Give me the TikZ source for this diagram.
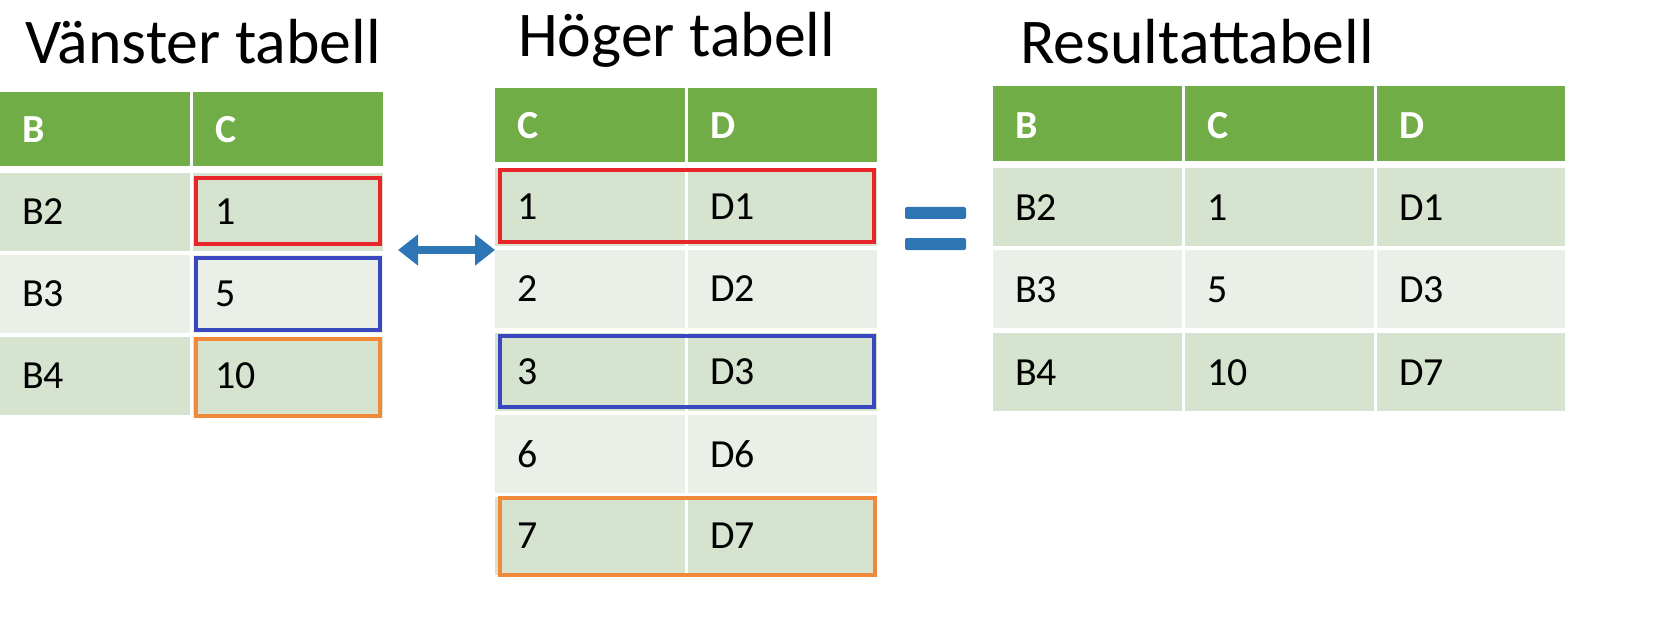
\documentclass[tikz,border=0pt]{standalone}
\usepackage{fontspec}
\setmainfont{Carlito}
\usetikzlibrary{arrows.meta}
\definecolor{hdr}{HTML}{70AD47}
\definecolor{dk}{HTML}{D5E3CF}
\definecolor{lt}{HTML}{EAF0E8}
\definecolor{rb}{HTML}{E8262A}
\definecolor{bb}{HTML}{3A48C0}
\definecolor{ob}{HTML}{F08A3A}
\definecolor{ar}{HTML}{2E75B6}
\begin{document}
\begin{tikzpicture}[x=1bp,y=-1bp,
 cell/.style={draw=none,inner sep=0,anchor=west,font=\fontsize{40}{40}\selectfont},
 hd/.style={cell,text=white,font=\fontsize{40}{40}\selectfont\bfseries},
 ttl/.style={anchor=west,inner sep=0,font=\fontsize{64}{64}\selectfont},
 box/.style={line width=3.5bp}]
\useasboundingbox (0,0) rectangle (1669,624);
% titles
\node[ttl] (t1) at (25,42) {Vänster tabell};
\node[ttl] (t2) at (518,40) {Höger tabell};
\node[ttl] (t3) at (1020,42) {Resultattabell};
% left table
\fill[hdr] (0,92) rectangle (190,166); \fill[hdr] (193,92) rectangle (383,166);
\node[hd] (lb) at (22,130) {B}; \node[hd] (lc) at (215,130) {C};
\fill[dk] (0,173) rectangle (190,251); \fill[dk] (193,173) rectangle (383,251);
\fill[lt] (0,255) rectangle (190,333); \fill[lt] (193,255) rectangle (383,333);
\fill[dk] (0,337) rectangle (190,415); \fill[dk] (193,337) rectangle (383,415);
\node[cell] (l1) at (22,212) {B2}; \node[cell] (l2) at (215,212) {1};
\node[cell] (l3) at (22,294) {B3}; \node[cell] (l4) at (215,294) {5};
\node[cell] (l5) at (22,376) {B4}; \node[cell] (l6) at (215,376) {10};
\draw[box,rb] (196,178) rectangle (380,244);
\draw[box,bb] (196,258) rectangle (380,330);
\draw[box,ob] (196,339) rectangle (380,416);
% middle table
\fill[hdr] (495,88) rectangle (685,162); \fill[hdr] (688,88) rectangle (877,162);
\node[hd] (mc) at (517,126) {C}; \node[hd] (md) at (710,126) {D};
\foreach \y/\c/\a/\b [count=\i] in {168/dk/1/D1,250/lt/2/D2,333/dk/3/D3,415/lt/6/D6,497/dk/7/D7}{
 \fill[\c] (495,\y) rectangle (685,\y+78); \fill[\c] (688,\y) rectangle (877,\y+78);
 \node[cell] (ma\i) at (517,\y+39) {\a}; \node[cell] (mb\i) at (710,\y+39) {\b};
}
\draw[box,rb] (500,170) rectangle (874,242);
\draw[box,bb] (500,336) rectangle (874,407);
\draw[box,ob] (500,498) rectangle (875,575);
% arrow
\coordinate (a1) at (398,250); \coordinate (a2) at (495,250);
\draw[ar,line width=8bp,{Triangle[length=20bp,width=30bp]}-{Triangle[length=20bp,width=30bp]}] (a1) -- (a2);
% equals
\fill[ar,rounded corners=2bp] (905,207) rectangle (966,219);
\fill[ar,rounded corners=2bp] (905,238) rectangle (966,250);
% right table
\fill[hdr] (993,86) rectangle (1182,161); \fill[hdr] (1185,86) rectangle (1374,161); \fill[hdr] (1377,86) rectangle (1565,161);
\node[hd] (rb) at (1015,126) {B}; \node[hd] (rc) at (1207,126) {C}; \node[hd] (rd) at (1399,126) {D};
\foreach \y/\c/\a/\b/\d [count=\i] in {168/dk/B2/1/D1,250/lt/B3/5/D3,333/dk/B4/10/D7}{
 \fill[\c] (993,\y) rectangle (1182,\y+78); \fill[\c] (1185,\y) rectangle (1374,\y+78); \fill[\c] (1377,\y) rectangle (1565,\y+78);
 \node[cell] (ra\i) at (1015,\y+40) {\a}; \node[cell] (rbb\i) at (1207,\y+40) {\b}; \node[cell] (rcc\i) at (1399,\y+40) {\d};
}
\end{tikzpicture}
\end{document}
